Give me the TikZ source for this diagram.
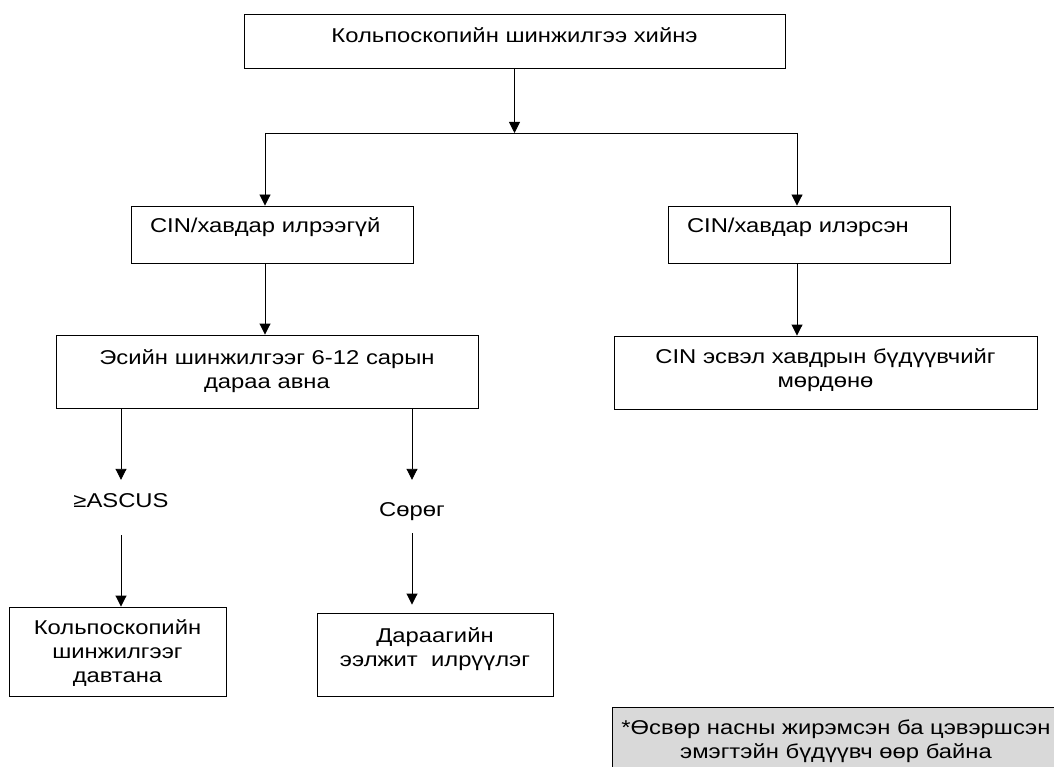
\documentclass[tikz,border=0pt]{standalone}
\usepackage{fontspec}
\usepackage{tikz}
\usetikzlibrary{arrows.meta}
\newfontfamily\chart[FakeStretch=1.19]{Liberation Sans}
\definecolor{notegray}{HTML}{D9D9D9}

\begin{document}
\begin{tikzpicture}[x=1pt, y=-1pt,
    box/.style={draw, line width=0.9pt, inner sep=0pt, align=center,
                font=\chart\fontsize{20}{24}\selectfont},
    leftbox/.style={box, align=left, inner xsep=19pt, text width=244pt,
                    text height=27pt, text depth=30pt},
    tag/.style={inner sep=0pt, font=\chart\fontsize{20}{24}\selectfont},
    arr/.style={line width=0.9pt, -{Triangle[width=11pt, length=11pt]}}
]
\useasboundingbox (0,0) rectangle (1054,767);
\clip (0,0) rectangle (1054,767);

% ================================================================
%  Colposcopy and the split
% ================================================================
\node[box, text width=541pt, text height=29pt, text depth=25pt] (colpo) at (514.5,41)
    {Кольпоскопийн шинжилгээ хийнэ};

\coordinate (jl) at (265,133);
\coordinate (jr) at (797,133);
\draw[arr] (colpo.south) -- (colpo.south |- jl);
\draw[line width=0.9pt] (jl) -- (jr);

\node[leftbox] (nodetect) at (272,234.5) {CIN/хавдар илрээгүй};
\node[leftbox] (detect)   at (809,234.5) {CIN/хавдар илэрсэн};
\draw[arr] (jl) -- (jl |- nodetect.north);
\draw[arr] (jr) -- (jr |- detect.north);

% ================================================================
%  Left branch
% ================================================================
\node[box, text width=422pt, text height=29pt, text depth=44pt] (repeatpap) at (267,371.5)
    {Эсийн шинжилгээг 6-12 сарын\\дараа авна};
\draw[arr] (jl |- nodetect.south) -- (jl |- repeatpap.north);

\node[tag, text height=27pt, text depth=28pt] (ascus) at (121,507.5) {≥ASCUS};
\node[tag, text height=36pt, text depth=17pt] (neg) at (412,506.5) {Сөрөг};
\draw[arr] (ascus.north |- repeatpap.south) -- (ascus.north);
\draw[arr] (neg.north |- repeatpap.south) -- (neg.north);

\node[box, text width=217pt, text height=27pt, text depth=62pt] (colpoagain) at (117.5,651.5)
    {Кольпоскопийн\\шинжилгээг\\давтана};
\node[box, text width=236pt, text height=29pt, text depth=54pt] (routine) at (435,654.5)
    {Дараагийн\\ээлжит\ \ илрүүлэг};
\draw[arr] (ascus.south) -- (ascus.south |- colpoagain.north);
\draw[arr, shorten >=8pt] (neg.south) -- (neg.south |- routine.north);

% ================================================================
%  Right branch and note
% ================================================================
\node[box, text width=423pt, text height=27pt, text depth=46pt] (rules) at (825.5,372.5)
    {CIN эсвэл хавдрын бүдүүвчийг\\мөрдөнө};
\draw[arr] (jr |- detect.south) -- (jr |- rules.north);

\node[box, fill=notegray, text width=448pt, text height=27pt, text depth=41pt] (note) at (836,741)
    {*Өсвөр насны жирэмсэн ба цэвэршсэн\\эмэгтэйн бүдүүвч өөр байна};
\end{tikzpicture}
\end{document}
